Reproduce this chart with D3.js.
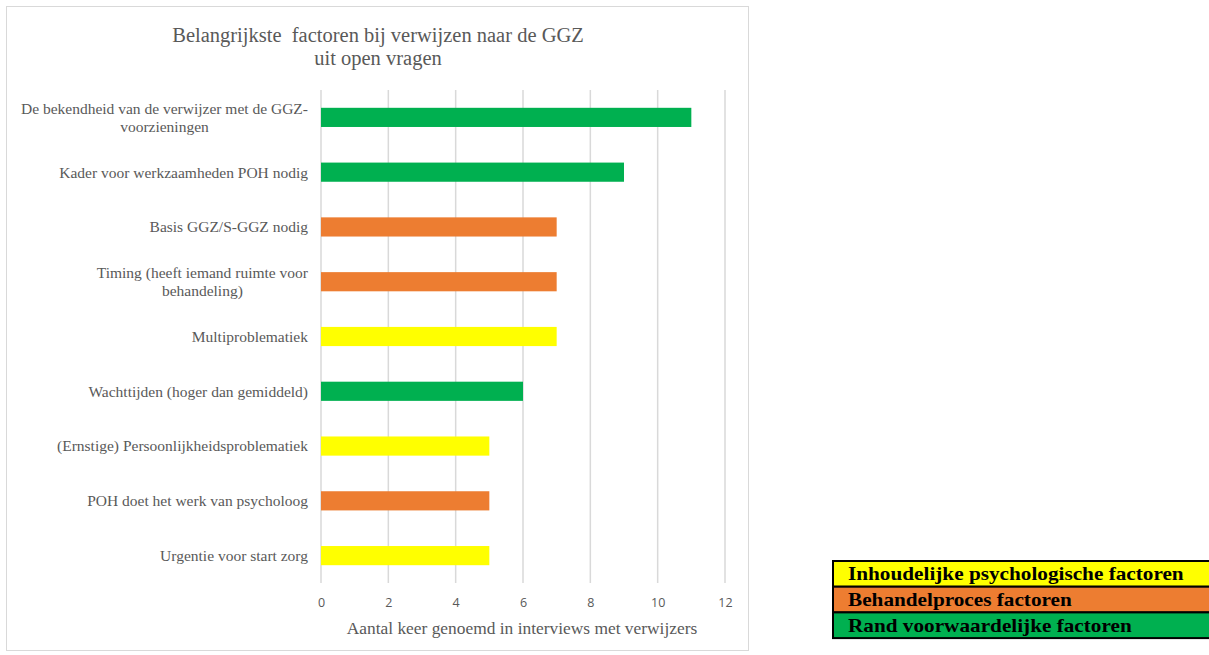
<!DOCTYPE html>
<html>
<head>
<meta charset="utf-8">
<script src="https://cdn.jsdelivr.net/npm/d3@7"></script>
<style>
  body { margin: 0; background: #fff; }
  svg { display: block; }
</style>
</head>
<body>
<svg id="chart" width="1209" height="655"></svg>
<script>
var categories = [
  ["De bekendheid van de verwijzer met de GGZ-", "voorzieningen"],
  ["Kader voor werkzaamheden POH nodig"],
  ["Basis GGZ/S-GGZ nodig"],
  ["Timing (heeft iemand ruimte voor", "behandeling)"],
  ["Multiproblematiek"],
  ["Wachttijden (hoger dan gemiddeld)"],
  ["(Ernstige) Persoonlijkheidsproblematiek"],
  ["POH doet het werk van psycholoog"],
  ["Urgentie voor start zorg"]
];
var values = [11, 9, 7, 7, 7, 6, 5, 5, 5];
var groups = ["rand", "rand", "proces", "proces", "inhoud", "rand", "inhoud", "proces", "inhoud"];
var xTicks = [0, 2, 4, 6, 8, 10, 12];

var legendKeys = ["inhoud", "proces", "rand"];
var legendLabels = ["Inhoudelijke psychologische factoren", "Behandelproces factoren", "Rand voorwaardelijke factoren"];
var legendColors = ["#ffff00", "#ed7d31", "#00b050"];

var chartTitle = ["Belangrijkste  factoren bij verwijzen naar de GGZ", "uit open vragen"];
var axisTitle = "Aantal keer genoemd in interviews met verwijzers";

var svg = d3.select("#chart"),
    serif = "'Liberation Serif', 'Times New Roman', serif",
    grey = "#595959";

var color = d3.scaleOrdinal().domain(legendKeys).range(legendColors);

// chart frame
svg.append("rect")
    .attr("x", 6.5).attr("y", 6.5)
    .attr("width", 742).attr("height", 644)
    .attr("fill", "#fff")
    .attr("stroke", "#d9d9d9");

var x = d3.scaleLinear().domain([0, 12]).range([321, 725]);
var y = d3.scaleBand()
    .domain(d3.range(categories.length))
    .range([90, 583])
    .paddingInner(0.65)
    .paddingOuter(0.325);

// gridlines
svg.append("g")
    .selectAll("line")
    .data(xTicks)
    .enter().append("line")
    .attr("x1", function(d) { return x(d); })
    .attr("x2", function(d) { return x(d); })
    .attr("y1", 90).attr("y2", 583)
    .attr("stroke", "#d9d9d9")
    .attr("stroke-width", 1.5);

// bars
svg.append("g")
    .selectAll("rect")
    .data(values)
    .enter().append("rect")
    .attr("x", x(0))
    .attr("y", function(d, i) { return y(i); })
    .attr("width", function(d) { return x(d) - x(0); })
    .attr("height", y.bandwidth())
    .attr("fill", function(d, i) { return color(groups[i]); });

// x axis
var xAxis = svg.append("g")
    .attr("transform", "translate(0,598)")
    .call(d3.axisBottom(x).tickValues(xTicks).tickSize(0).tickPadding(0));
xAxis.select(".domain").remove();
xAxis.selectAll("text")
    .attr("fill", grey)
    .attr("dy", "0.71em")
    .style("font-family", "'Open Sans', sans-serif")
    .style("font-size", "12.5px");

// category labels
var labelX = 308;
var lab = svg.append("g")
    .selectAll("text")
    .data(categories)
    .enter().append("text")
    .attr("fill", grey)
    .style("font-family", serif)
    .style("font-size", "15.5px");

lab.each(function(lines, i) {
    var t = d3.select(this),
        cy = y(i) + y.bandwidth() / 2,
        top = cy - (lines.length - 1) * 18 / 2;
    var first = t.append("tspan")
        .attr("x", labelX)
        .attr("y", top)
        .attr("dy", "0.35em")
        .attr("text-anchor", "end")
        .text(lines[0]);
    var w = first.node().getComputedTextLength();
    for (var k = 1; k < lines.length; k++) {
        t.append("tspan")
            .attr("x", labelX - w / 2)
            .attr("y", top + k * 18)
            .attr("dy", "0.35em")
            .attr("text-anchor", "middle")
            .text(lines[k]);
    }
});

// title
svg.append("text")
    .attr("text-anchor", "middle")
    .attr("fill", grey)
    .style("font-family", serif)
    .style("font-size", "20.5px")
    .style("white-space", "pre")
    .selectAll("tspan")
    .data(chartTitle)
    .enter().append("tspan")
    .attr("x", 378)
    .attr("y", function(d, i) { return 42 + i * 23; })
    .text(function(d) { return d; });

// axis title
svg.append("text")
    .attr("x", 522).attr("y", 634)
    .attr("text-anchor", "middle")
    .attr("fill", grey)
    .style("font-family", serif)
    .style("font-size", "17.4px")
    .text(axisTitle);

// legend box
var lg = svg.append("g").attr("transform", "translate(833,561)");
var rowH = 25.7;
lg.selectAll("rect.row")
    .data(legendLabels)
    .enter().append("rect")
    .attr("class", "row")
    .attr("x", 0)
    .attr("y", function(d, i) { return i * rowH; })
    .attr("width", 380)
    .attr("height", rowH)
    .attr("fill", function(d, i) { return legendColors[i]; })
    .attr("stroke", "#000")
    .attr("stroke-width", 2);
lg.selectAll("text")
    .data(legendLabels)
    .enter().append("text")
    .attr("transform", function(d, i) {
        return "translate(15," + (i * rowH + rowH / 2) + ") scale(1.18,1)";
    })
    .attr("dy", "0.35em")
    .attr("fill", "#000")
    .style("font-family", serif)
    .style("font-weight", "bold")
    .style("font-size", "18px")
    .text(function(d) { return d; });
</script>
</body>
</html>
